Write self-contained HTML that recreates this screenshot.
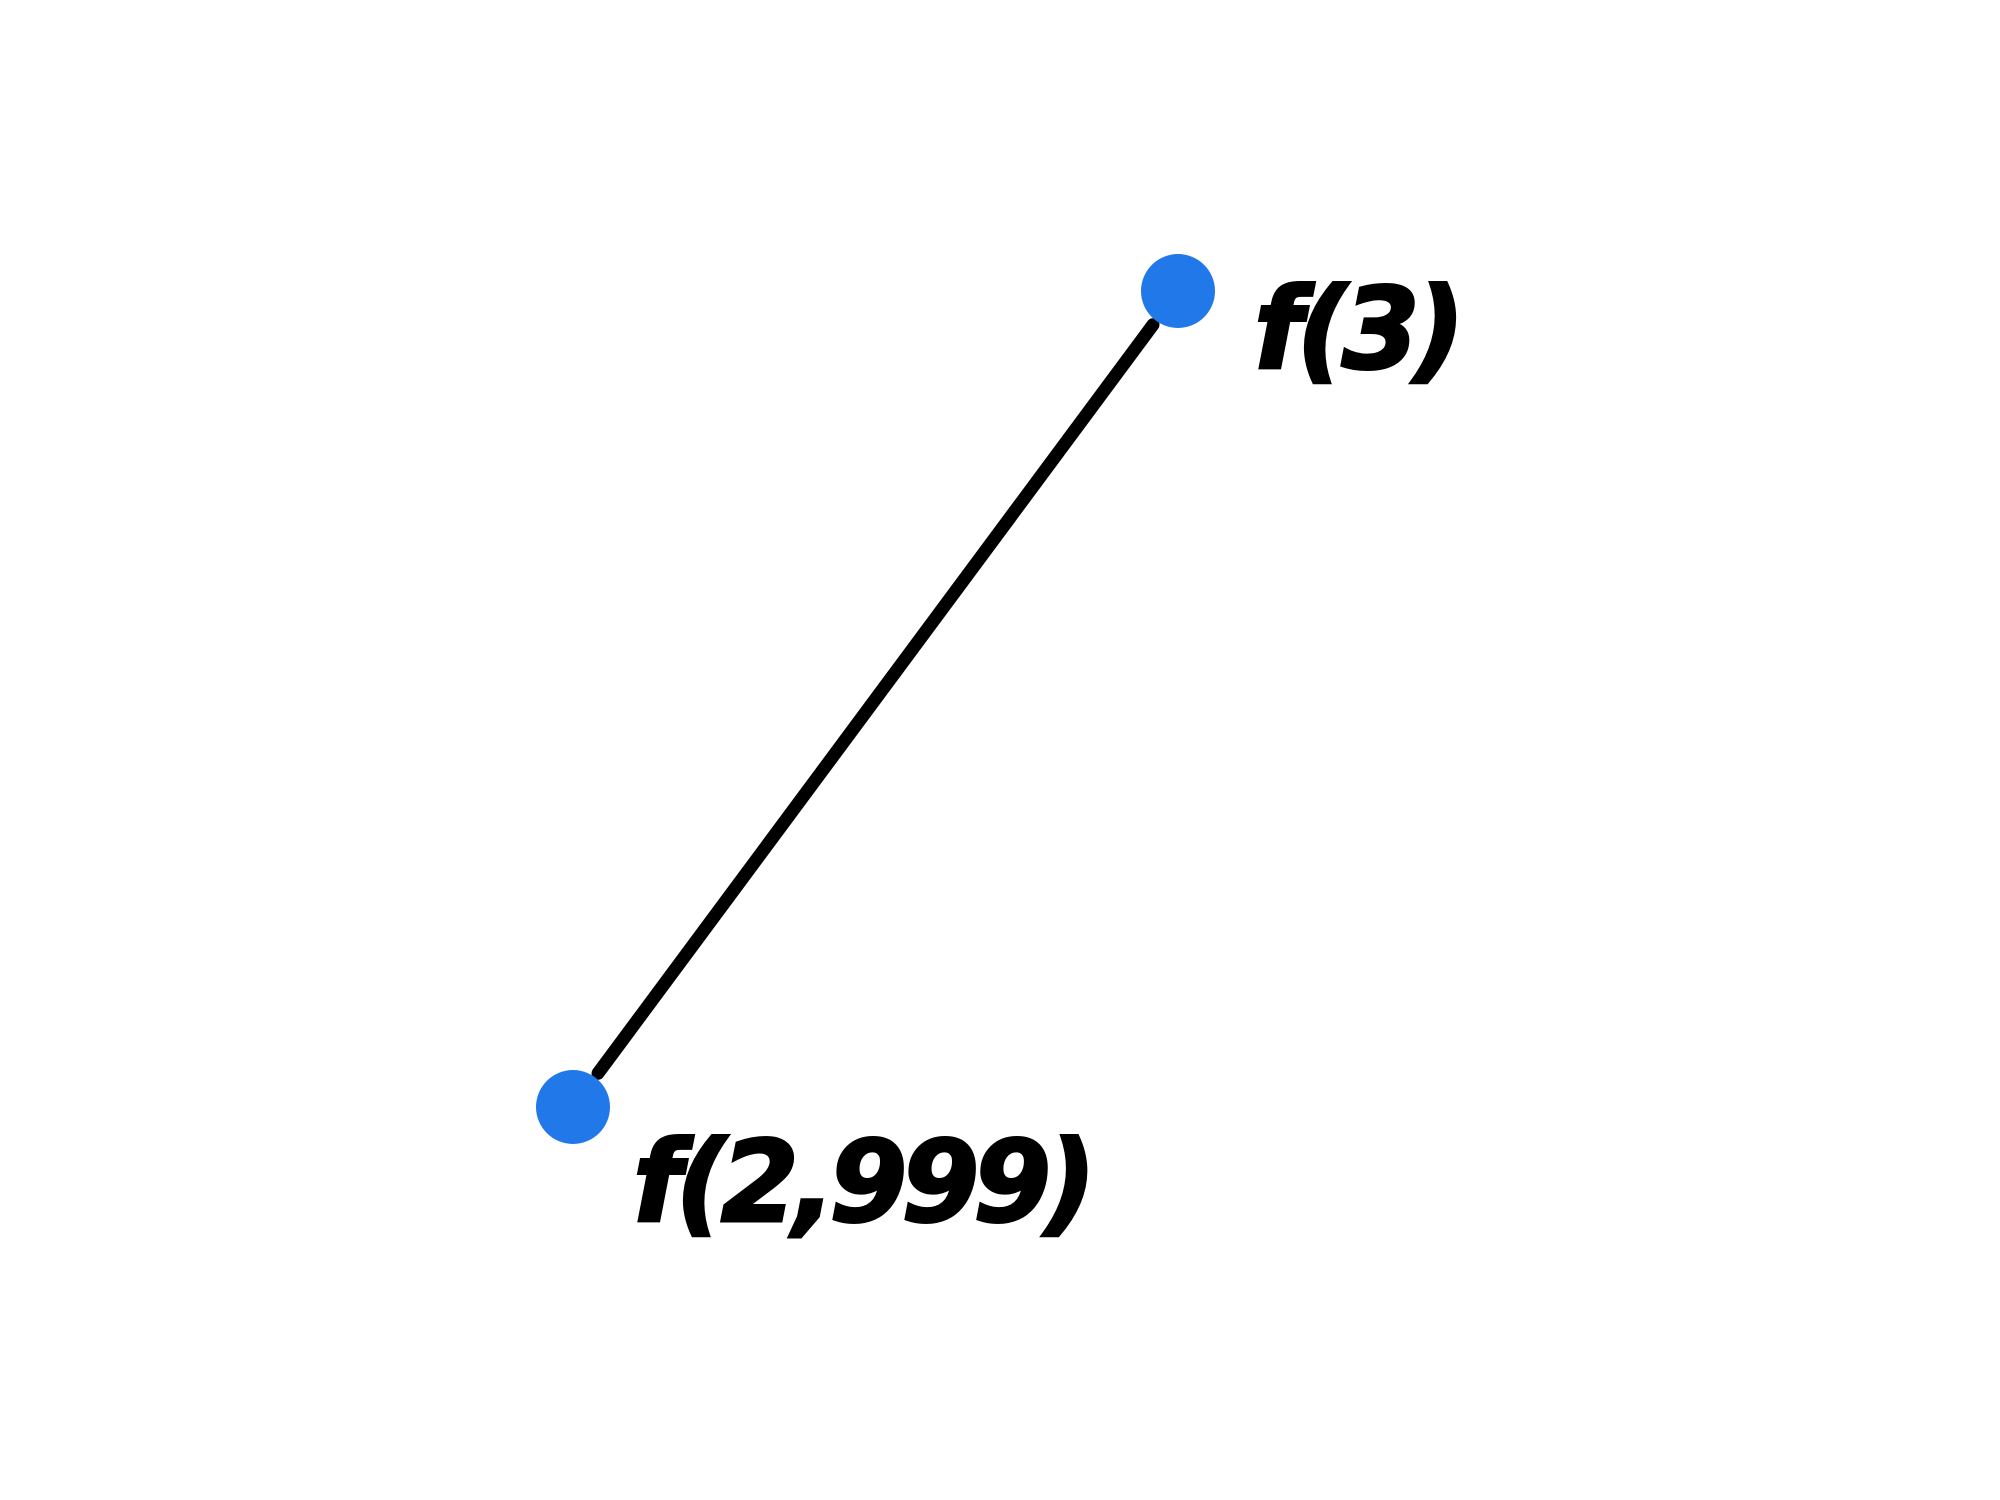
<!DOCTYPE html>
<html><head><meta charset="utf-8"><style>
html,body{margin:0;padding:0;background:#fff;width:2000px;height:1500px;overflow:hidden}
svg{display:block}
text{font-family:"DejaVu Sans","Liberation Sans",sans-serif;font-weight:bold;font-style:oblique;font-size:112px;letter-spacing:-6px;fill:#000}
</style></head><body>
<svg id="chart" width="2000" height="1500" viewBox="0 0 2000 1500"></svg>
<script>
const xValues = [2.999, 3];
const yValues = [0, 1];
const labels = ["f(2,999)", "f(3)"];
const labelDx = [60, 76];
const labelDy = [114, 77];

function xScale(v){ return 573 + (v - 2.999) / (3 - 2.999) * (1178 - 573); }
function yScale(v){ return 1115 + v * (291 - 1115); }

const svg = document.getElementById('chart');
const NS = 'http://www.w3.org/2000/svg';
const px = xValues.map(xScale), py = yValues.map(yScale).map((v,i)=> i===0 ? v-8 : v);
const dx = px[1]-px[0], dy = py[1]-py[0], len = Math.hypot(dx,dy);
const ux = dx/len, uy = dy/len;
const line = document.createElementNS(NS,'line');


line.setAttribute('x1', px[0]+ux*42); line.setAttribute('y1', py[0]+uy*42);
line.setAttribute('x2', px[1]-ux*42); line.setAttribute('y2', py[1]-uy*42);
line.setAttribute('stroke','#000'); line.setAttribute('stroke-width','13'); line.setAttribute('stroke-linecap','round');
svg.appendChild(line);
for (let i=0;i<xValues.length;i++){
  const c = document.createElementNS(NS,'circle');
  
  
  c.setAttribute('cx', px[i]); c.setAttribute('cy', py[i]); c.setAttribute('r', 37);
  c.setAttribute('fill', '#2178e8');
  svg.appendChild(c);
  const t = document.createElementNS(NS,'text');
  
  
  t.setAttribute('x', px[i]+labelDx[i]); t.setAttribute('y', py[i]+labelDy[i]);
  t.setAttribute('stroke', '#000'); t.setAttribute('stroke-width', '3');
  t.textContent = labels[i];
  svg.appendChild(t);
}
</script>
</body></html>
